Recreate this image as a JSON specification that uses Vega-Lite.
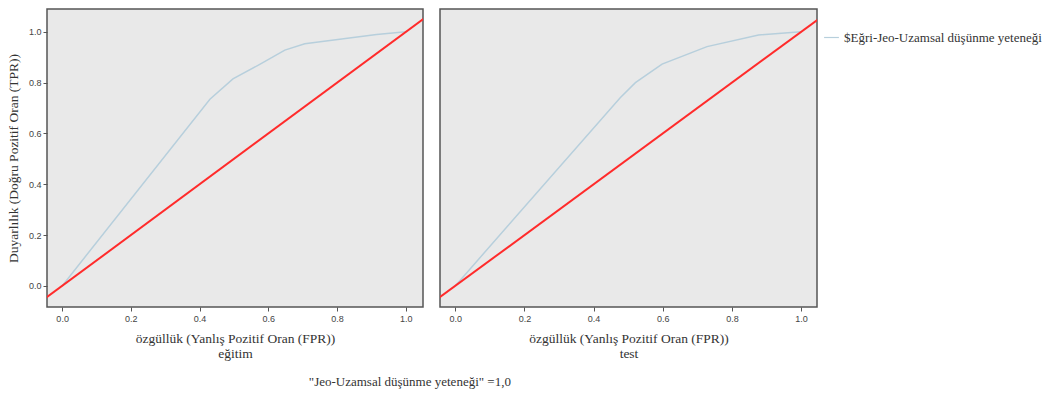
{
  "$schema": "https://vega.github.io/schema/vega-lite/v6.json",
  "padding": {"left": 5, "top": 8, "right": 5, "bottom": 5},
  "background": "white",
  "title": {"text": "\"Jeo-Uzamsal düşünme yeteneği\" =1,0", "orient": "bottom", "anchor": "middle", "font": "Liberation Serif", "fontSize": 13, "fontWeight": "normal", "color": "#333", "offset": 15, "dx": -124},
  "datasets": {
    "egitim": [
      {"fpr": 0.0, "tpr": 0.0, "curve": "$Eğri-Jeo-Uzamsal düşünme yeteneği"},
      {"fpr": 0.43, "tpr": 0.735, "curve": "$Eğri-Jeo-Uzamsal düşünme yeteneği"},
      {"fpr": 0.497, "tpr": 0.815, "curve": "$Eğri-Jeo-Uzamsal düşünme yeteneği"},
      {"fpr": 0.575, "tpr": 0.872, "curve": "$Eğri-Jeo-Uzamsal düşünme yeteneği"},
      {"fpr": 0.648, "tpr": 0.928, "curve": "$Eğri-Jeo-Uzamsal düşünme yeteneği"},
      {"fpr": 0.706, "tpr": 0.953, "curve": "$Eğri-Jeo-Uzamsal düşünme yeteneği"},
      {"fpr": 0.915, "tpr": 0.99, "curve": "$Eğri-Jeo-Uzamsal düşünme yeteneği"},
      {"fpr": 1.0, "tpr": 1.0, "curve": "$Eğri-Jeo-Uzamsal düşünme yeteneği"}
    ],
    "test": [
      {"fpr": 0.0, "tpr": 0.0, "curve": "$Eğri-Jeo-Uzamsal düşünme yeteneği"},
      {"fpr": 0.477, "tpr": 0.741, "curve": "$Eğri-Jeo-Uzamsal düşünme yeteneği"},
      {"fpr": 0.521, "tpr": 0.8, "curve": "$Eğri-Jeo-Uzamsal düşünme yeteneği"},
      {"fpr": 0.598, "tpr": 0.873, "curve": "$Eğri-Jeo-Uzamsal düşünme yeteneği"},
      {"fpr": 0.728, "tpr": 0.942, "curve": "$Eğri-Jeo-Uzamsal düşünme yeteneği"},
      {"fpr": 0.877, "tpr": 0.988, "curve": "$Eğri-Jeo-Uzamsal düşünme yeteneği"},
      {"fpr": 1.0, "tpr": 1.0, "curve": "$Eğri-Jeo-Uzamsal düşünme yeteneği"}
    ],
    "diag": [
      {"fpr": -0.1, "tpr": -0.1},
      {"fpr": 1.1, "tpr": 1.1}
    ]
  },
  "config": {
    "view": {"fill": "#e9e9e9", "stroke": "#555", "strokeWidth": 1.5},
    "axis": {"domain": false, "grid": false, "labelFont": "Liberation Sans", "labelFontSize": 9, "labelColor": "#444", "tickColor": "#555", "tickSize": 4, "titleFont": "Liberation Serif", "titleFontSize": 13.5, "titleFontWeight": "normal", "titleColor": "#333"},
    "legend": {"labelFont": "Liberation Serif", "labelFontSize": 13, "labelColor": "#333", "labelLimit": 0, "symbolType": "stroke", "symbolStrokeWidth": 1.2, "symbolSize": 220, "title": null, "padding": 20, "offset": -15}
  },
  "spacing": 15,
  "hconcat": [
    {
      "width": 376,
      "height": 298,
      "layer": [
        {
          "data": {"name": "egitim"},
          "mark": {"type": "line", "strokeWidth": 1.5, "clip": true},
          "encoding": {
            "x": {"field": "fpr", "type": "quantitative", "scale": {"domain": [-0.044, 1.05], "nice": false, "zero": false}, "axis": {"values": [0, 0.2, 0.4, 0.6, 0.8, 1.0], "format": ".1f", "title": ["özgüllük (Yanlış Pozitif Oran (FPR))", "eğitim"], "titlePadding": 8, "labelPadding": 3}},
            "y": {"field": "tpr", "type": "quantitative", "scale": {"domain": [-0.083, 1.09], "nice": false, "zero": false}, "axis": {"values": [0, 0.2, 0.4, 0.6, 0.8, 1.0], "format": ".1f", "title": "Duyarlılık (Doğru Pozitif Oran (TPR))", "titlePadding": 8}},
            "color": {"field": "curve", "type": "nominal", "scale": {"range": ["#b7cfdc"]}, "legend": {"orient": "right"}}
          }
        },
        {
          "data": {"name": "diag"},
          "mark": {"type": "line", "color": "#ff2b2b", "strokeWidth": 2, "clip": true},
          "encoding": {
            "x": {"field": "fpr", "type": "quantitative"},
            "y": {"field": "tpr", "type": "quantitative"}
          }
        }
      ]
    },
    {
      "width": 377,
      "height": 298,
      "layer": [
        {
          "data": {"name": "test"},
          "mark": {"type": "line", "strokeWidth": 1.5, "clip": true},
          "encoding": {
            "x": {"field": "fpr", "type": "quantitative", "scale": {"domain": [-0.044, 1.046], "nice": false, "zero": false}, "axis": {"values": [0, 0.2, 0.4, 0.6, 0.8, 1.0], "format": ".1f", "title": ["özgüllük (Yanlış Pozitif Oran (FPR))", "test"], "titlePadding": 8, "labelPadding": 3}},
            "y": {"field": "tpr", "type": "quantitative", "scale": {"domain": [-0.083, 1.09], "nice": false, "zero": false}, "axis": null},
            "color": {"field": "curve", "type": "nominal", "scale": {"range": ["#b7cfdc"]}, "legend": {"orient": "right"}}
          }
        },
        {
          "data": {"name": "diag"},
          "mark": {"type": "line", "color": "#ff2b2b", "strokeWidth": 2, "clip": true},
          "encoding": {
            "x": {"field": "fpr", "type": "quantitative"},
            "y": {"field": "tpr", "type": "quantitative"}
          }
        }
      ]
    }
  ]
}
